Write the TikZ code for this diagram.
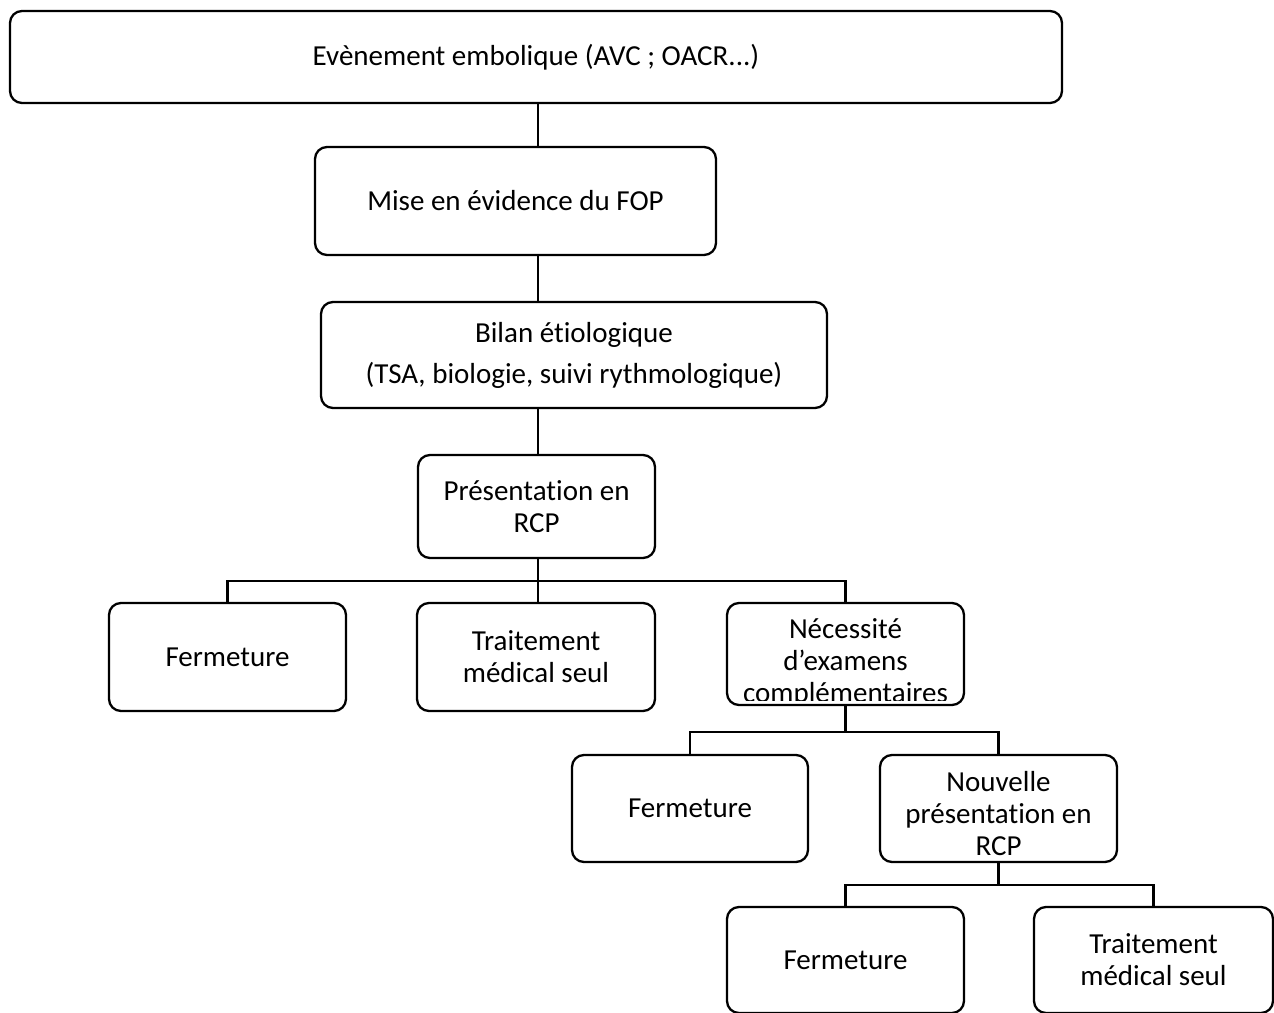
\documentclass[tikz,border=0pt]{standalone}
\usepackage{fontspec}
\setmainfont[Ligatures={NoCommon}]{Carlito}
\begin{document}
\begin{tikzpicture}[x=1pt,y=-1pt,
  box/.style={draw, line width=2.3pt, rounded corners=12pt, align=center, inner sep=0pt,
    font=\fontsize{29}{32}\selectfont},
  lbl/.style={align=center, inner sep=0pt, font=\fontsize{29}{32}\selectfont},
  conn/.style={line width=2.3pt}]
\useasboundingbox (0,0) rectangle (1274,1012);
\clip (0,0) rectangle (1274,1012);
\fill[white] (0,0) rectangle (1274,1012);

\node[box, minimum width=1052pt, minimum height=92pt] (top) at (536,57) {Evènement embolique (AVC ; OACR...)};
\node[box, minimum width=401pt, minimum height=108pt] (mise) at (515.5,201) {Mise en évidence du FOP};
\node[box, minimum width=506pt, minimum height=106pt] (bilan) at (574,355) {Bilan étiologique\\[9pt](TSA, biologie, suivi rythmologique)};
\node[box, minimum width=237pt, minimum height=103pt] (pres) at (536.5,506.5) {Présentation en\\RCP};
\node[box, minimum width=237pt, minimum height=108pt] (f1) at (227.5,657) {Fermeture};
\node[box, minimum width=238pt, minimum height=108pt] (t1) at (536,657) {Traitement\\médical seul};
\node[box, minimum width=237pt, minimum height=102pt] (nec) at (845.5,654) {};
\begin{scope}
  \clip (727,603) rectangle (964,700);
  \node[lbl] (nectext) at (845.5,663) {Nécessité\\d’examens\\complémentaires};
\end{scope}
\node[box, minimum width=236pt, minimum height=107pt] (f2) at (690,808.5) {Fermeture};
\node[box, minimum width=237pt, minimum height=107pt] (nouv) at (998.5,808.5) {};
\node[lbl] (nouvtext) at (998.5,814) {Nouvelle\\présentation en\\RCP};
\node[box, minimum width=237pt, minimum height=106pt] (f3) at (845.5,960) {Fermeture};
\node[box, minimum width=239pt, minimum height=106pt] (t3) at (1153.5,960) {Traitement\\médical seul};

\coordinate (spine) at (538,0);
\coordinate (bar1) at (538,581);
\coordinate (bar2) at (845.5,732);
\coordinate (bar3) at (998.5,885);

\draw[conn] (top.south -| spine) -- (mise.north -| spine);
\draw[conn] (mise.south -| spine) -- (bilan.north -| spine);
\draw[conn] (bilan.south -| spine) -- (pres.north -| spine);
\draw[conn] (pres.south -| spine) -- (bar1);
\draw[conn] (f1.north) -- (f1.north |- bar1) -- (nec.north |- bar1) -- (nec.north);
\draw[conn] (bar1) -- (t1.north -| bar1);
\draw[conn] (nec.south) -- (bar2);
\draw[conn] (f2.north) -- (f2.north |- bar2) -- (nouv.north |- bar2) -- (nouv.north);
\draw[conn] (nouv.south) -- (bar3);
\draw[conn] (f3.north) -- (f3.north |- bar3) -- (t3.north |- bar3) -- (t3.north);
\end{tikzpicture}
\end{document}
